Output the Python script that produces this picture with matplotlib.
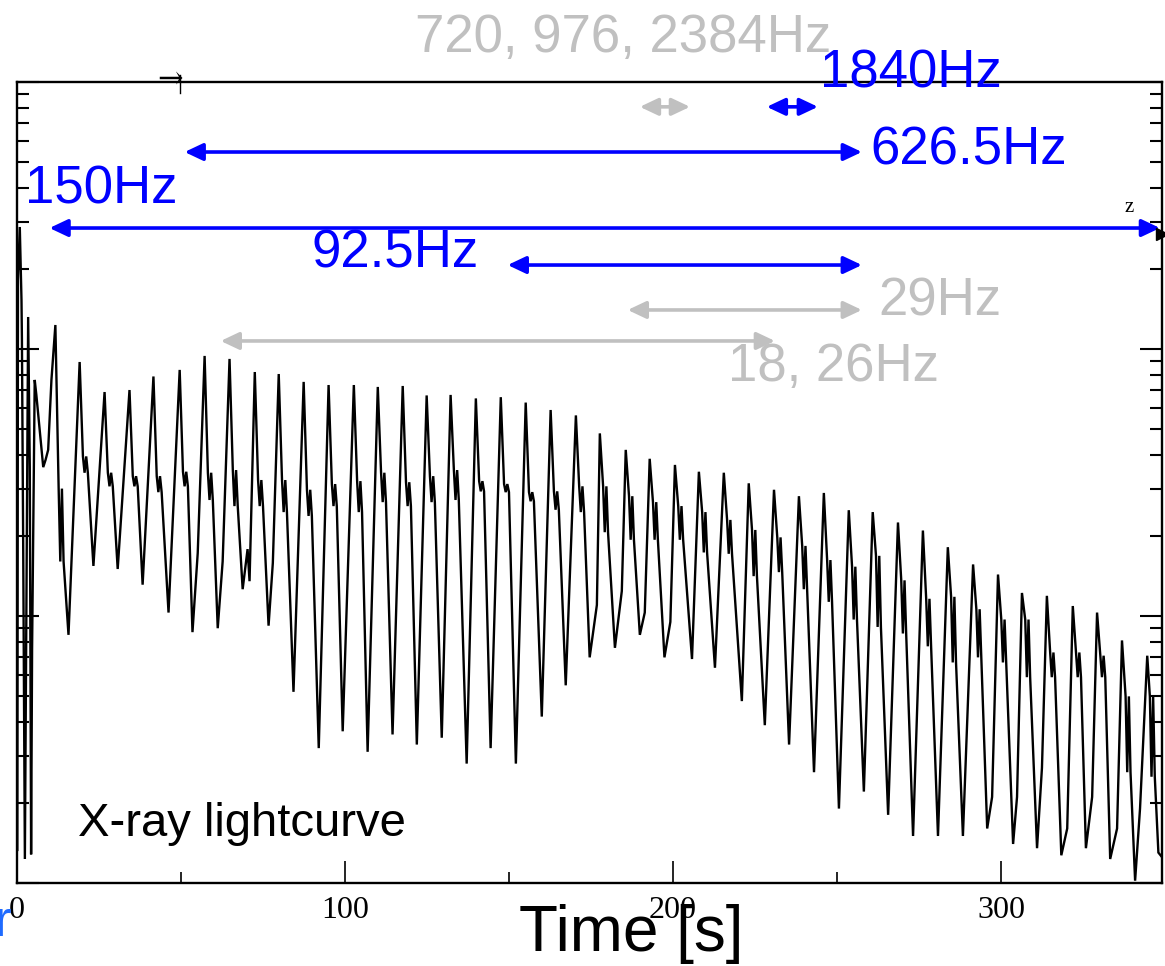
import numpy as np
import matplotlib
matplotlib.use("Agg")
import matplotlib.pyplot as plt
from matplotlib.patches import ArrowStyle
from matplotlib.lines import Line2D
from matplotlib.ticker import LogLocator, NullFormatter, FixedLocator

# ---------------------------------------------------------------------------
# X-ray light curve (count rate, log scale) of the giant flare tail
# ---------------------------------------------------------------------------
# initial spike
t_spike = [0.1, 0.3, 0.85, 1.37, 1.5, 1.9, 2.4, 3.4, 3.9, 4.3, 4.6, 5.4, 5.9,
           8.0, 8.7, 9.5, 10.5]
r_spike = [13.3, 1811, 2864, 1526, 1090, 172, 12.3, 1318, 361, 12.8, 75, 766,
           673, 361, 384, 419, 766]

# rotational pulses: main peak, shoulder band and following trough
t_peak = [11.7, 19.1, 26.7, 34.3, 41.6, 49.6, 57.2, 64.8, 72.5, 79.8,
          87.4, 95.0, 102.7, 110.0, 117.6, 124.9, 132.2, 139.9, 147.5, 155.1,
          162.7, 170.4, 177.7, 185.6, 192.9, 200.6, 207.9, 215.5, 223.1, 230.8,
          238.4, 246.0, 253.6, 260.9, 268.6, 276.2, 283.8, 291.5, 299.1, 306.4,
          314.0, 321.9, 329.3, 336.9, 344.6]
r_peak = [1230, 894, 690, 702, 789, 835, 942, 918, 820, 806,
          753, 733, 733, 721, 727, 670, 673, 653, 660, 630,
          591, 564, 483, 419, 388, 368, 347, 344, 314, 297,
          281, 289, 249, 245, 224, 209, 181, 156, 143, 122,
          119, 109, 103, 81, 71]
t_shoulder = [13.7, 21.1, 28.7, 36.3, 43.6, 51.6, 59.2, 66.8, 74.5, 81.8,
              89.4, 97.0, 104.7, 112.0, 119.6, 126.9, 134.2, 141.9, 149.5, 157.1,
              164.7, 172.4, 179.7, 187.6, 194.9, 202.6, 209.9, 217.5, 225.1, 232.8,
              240.4, 248.0, 255.6, 262.9, 270.6, 278.2, 285.8, 293.5, 301.1, 308.4,
              316.0, 323.9, 331.3, 339.0, 346.4]
r_shoulder_hi = [300, 396, 344, 334, 334, 347, 344, 352, 323, 323,
                 297, 312, 320, 344, 317, 334, 352, 320, 312, 291,
                 293, 306, 306, 281, 267, 258, 245, 229, 210, 197,
                 183, 162, 153, 168, 136, 116, 118, 106, 97, 97,
                 73, 73, 71, 50, 50]
r_shoulder_lo = [160, 344, 306, 306, 291, 306, 272, 258, 258, 245,
                 237, 258, 245, 267, 258, 267, 272, 293, 291, 269,
                 250, 245, 206, 193, 193, 193, 173, 171, 141, 146,
                 126, 113, 97, 91, 86, 77, 67, 70, 67, 59,
                 59, 59, 59, 26, 25]
t_trough = [15.7, 23.3, 30.7, 38.3, 46.2, 53.5, 61.2, 68.8, 76.7, 84.3,
            92.0, 99.3, 106.9, 114.5, 121.9, 129.5, 137.1, 144.4, 152.1, 160.0,
            167.3, 174.6, 182.3, 189.9, 197.4, 205.8, 212.8, 221.0, 228.0, 235.4,
            243.0, 250.6, 258.2, 265.6, 273.2, 280.8, 288.4, 295.8, 303.7, 311.0,
            318.4, 325.9, 333.3, 340.9]
r_trough = [85, 154, 150, 131, 103, 87, 90, 126, 92, 52,
            32, 37, 31, 36, 33, 35, 28, 32, 28, 42,
            55, 70, 76, 85, 70, 69, 64, 48, 39, 33,
            26, 19, 22, 18, 15, 15, 15, 16, 14, 13.5,
            12.7, 13.5, 12.3, 10.2]
# small secondary bumps on the rising edges
t_bump = [55.1, 62.7, 70.3, 70.9, 78.0, 176.8, 184.4, 191.4, 199.2,
          297.3, 304.9, 312.5, 320.2, 327.8, 335.4, 342.4]
r_bump = [172, 160, 178, 135, 158, 110, 124, 103, 95,
          21, 21, 27, 16, 21, 16, 19]
# end of the record
t_tail = [348.0, 349.1]
r_tail = [13, 12.5]

# QPO frequencies and the time windows in which they are seen
qpo_blue_labels = ["1840Hz", "626.5Hz", "150Hz", "92.5Hz"]
qpo_blue_start = [228.6, 51.1, 9.9, 149.6]
qpo_blue_end = [244.2, 257.6, 348.5, 257.6]
qpo_gray_labels = ["720, 976, 2384Hz", "29Hz", "18, 26Hz"]
qpo_gray_start = [189.9, 186.2, 62.1]
qpo_gray_end = [205.2, 257.6, 231.1]

x_ticks = [0, 100, 200, 300]
x_minor = [50, 150, 250]

# ---------------------------------------------------------------------------
W, H = 1165, 966
fig = plt.figure(figsize=(W / 100, H / 100), dpi=100)
ax = fig.add_axes([17 / W, 1 - 883 / H, (1162 - 17) / W, 801 / H])

# assemble the light curve polyline
pts = list(zip(t_spike, r_spike))
for tp, rp, ts, hi, lo in zip(t_peak, r_peak, t_shoulder, r_shoulder_hi, r_shoulder_lo):
    pts.append((tp, rp))
    pts += [(ts - 1.0, hi), (ts - 0.5, lo), (ts, hi), (ts + 0.5, lo)]
pts += list(zip(t_trough, r_trough))
pts += list(zip(t_bump, r_bump))
pts += list(zip(t_tail, r_tail))
pts.sort()
t_curve = [p[0] for p in pts]
r_curve = [p[1] for p in pts]
ax.plot(t_curve, r_curve, color="black", lw=1.7, solid_joinstyle="miter")

ax.set_yscale("log")
ax.set_ylim(10, 1e4)
ax.set_xlim(0, 349.1)

ax.yaxis.set_major_locator(LogLocator(base=10))
ax.yaxis.set_minor_locator(LogLocator(base=10, subs=np.arange(2, 10)))
ax.yaxis.set_minor_formatter(NullFormatter())
ax.xaxis.set_major_locator(FixedLocator(x_ticks))
ax.xaxis.set_minor_locator(FixedLocator(x_minor))

for s in ax.spines.values():
    s.set_linewidth(1.7)
ax.tick_params(axis="y", which="both", direction="in", left=True, right=True,
               labelleft=False, labelright=False, width=1.5)
ax.tick_params(axis="y", which="major", length=16)
ax.tick_params(axis="y", which="minor", length=8.5)
ax.tick_params(axis="x", which="both", direction="in", top=False, bottom=True, width=1.2)
ax.tick_params(axis="x", which="major", length=16, pad=9)
ax.tick_params(axis="x", which="minor", length=8)
for lab in ax.get_xticklabels():
    lab.set_fontfamily("Liberation Serif")
    lab.set_fontsize(23)

# QPO windows as double-headed arrows
arrow_style = ArrowStyle("<|-|>", head_length=0.55, head_width=0.26)
xt = ax.get_xaxis_transform()
blue_rows = [0.969, 0.9126, 0.8177, 0.7715]
gray_rows = [0.969, 0.7154, 0.6767]


def window(t0, t1, yfrac, color):
    ax.annotate("", xy=(t1, yfrac), xytext=(t0, yfrac), xycoords=xt,
                arrowprops=dict(arrowstyle=arrow_style, mutation_scale=20,
                                lw=2.6, color=color, shrinkA=0, shrinkB=0),
                annotation_clip=False)


BLUE = "#0000ff"
GRAY = "#c0c0c0"
for t0, t1, yf in zip(qpo_blue_start, qpo_blue_end, blue_rows):
    window(t0, t1, yf, BLUE)
for t0, t1, yf in zip(qpo_gray_start, qpo_gray_end, gray_rows):
    window(t0, t1, yf, GRAY)


def ftext(px, py, s, **kw):
    fig.text(px / W, 1 - py / H, s, **kw)


sans = "Liberation Sans"
blue_pos = [(820, 88), (870, 165), (25, 203), (312, 268)]
gray_pos = [(415, 52), (878, 315), (728, 381)]
for lab, (px, py) in zip(qpo_blue_labels, blue_pos):
    ftext(px, py, lab, color=BLUE, fontsize=38, family=sans, va="baseline")
for lab, (px, py) in zip(qpo_gray_labels, gray_pos):
    ftext(px, py, lab, color=GRAY, fontsize=38, family=sans, va="baseline")

ftext(78, 836, "X-ray lightcurve", color="black", fontsize=34, family=sans,
      va="baseline")
ftext(631, 934, "Time [s]", color="black", fontsize=46, family=sans,
      ha="center", va="center")
ftext(-5, 936, "r", color="#1f6bff", fontsize=36, family=sans, va="baseline")

# small marks around the frame
ftext(170, 79, "\u2192", color="black", fontsize=22, family="DejaVu Serif",
      ha="center", va="center")
fig.add_artist(Line2D([180 / W, 180 / W], [1 - 75 / H, 1 - 93 / H],
                      color="black", lw=1.0))
ftext(1129, 208, "z", color="black", fontsize=15, family="Liberation Serif",
      ha="center", va="center")
fig.add_artist(Line2D([1162 / W], [1 - 234 / H], marker=">", markersize=9,
                      color="black", lw=0))

fig.savefig("out.png", dpi=100)
